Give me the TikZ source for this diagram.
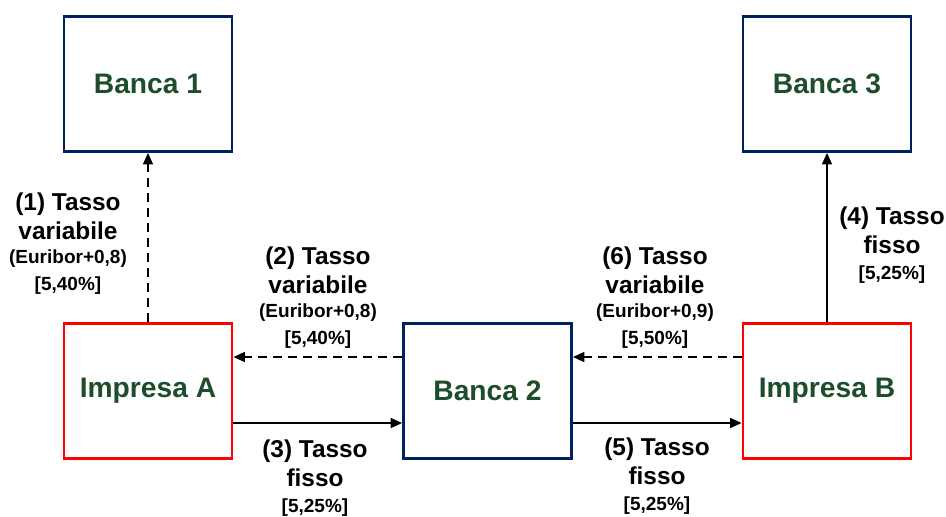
\documentclass[tikz,border=0pt]{standalone}
\usepackage{fontspec}
\setmainfont{Liberation Sans}
\usetikzlibrary{arrows.meta}
\definecolor{navybox}{HTML}{002060}
\definecolor{redbox}{HTML}{FF0000}
\definecolor{darkgreen}{HTML}{1E4D2B}
\newcommand{\bigline}{\fontsize{24.4}{28}\selectfont}
\newcommand{\smallline}{\fontsize{19}{22}\selectfont}
\tikzset{
  entity/.style={draw, line width=2.8pt, fill=white, minimum width=168pt, minimum height=135pt,
    inner sep=0pt, font=\bfseries\fontsize{28.2}{32}\selectfont, text=darkgreen},
  bank/.style={entity, draw=navybox},
  firm/.style={entity, draw=redbox},
  flow/.style={line width=1.5pt, -{Triangle[length=11.5pt,width=10pt]}},
  floating/.style={flow, dash pattern=on 9pt off 6pt},
  fixed/.style={flow},
  tag/.style={align=center, font=\bfseries\bigline, inner sep=0pt}
}
\begin{document}
\begin{tikzpicture}[x=1pt, y=-1pt]
\useasboundingbox (0,0) rectangle (946,517);

% parties
\node[bank] (b1) at (148,84) {Banca 1};
\node[bank] (b3) at (827,84) {Banca 3};
\node[firm] (ia) at (148,391) {Impresa A};
\node[bank] (b2) at (487.5,391) {Banca 2};
\node[firm] (ib) at (827,391) {Impresa B};

% interest flows
\draw[floating] (ia.north) -- (b1.south);
\draw[fixed] (ib.north) -- (b3.south);
\draw[floating] ([yshift=34pt]b2.west) -- ([yshift=34pt]ia.east);
\draw[floating] ([yshift=34pt]ib.west) -- ([yshift=34pt]b2.east);
\draw[fixed] ([yshift=-32pt]ia.east) -- ([yshift=-32pt]b2.west);
\draw[fixed] ([yshift=-32pt]b2.east) -- ([yshift=-32pt]ib.west);

% flow labels
\node[tag] (l1) at (68,244) {(1) Tasso\\[1pt] variabile\\[-4pt] {\smallline(Euribor+0,8)}\\[-1pt] {\smallline[5,40\%]}};
\node[tag] (l2) at (318,298) {(2) Tasso\\[1pt] variabile\\[-4pt] {\smallline(Euribor+0,8)}\\[-1pt] {\smallline[5,40\%]}};
\node[tag] (l6) at (655,298) {(6) Tasso\\[1pt] variabile\\[-4pt] {\smallline(Euribor+0,9)}\\[-1pt] {\smallline[5,50\%]}};
\node[tag] (l4) at (892,245) {(4) Tasso\\[1pt] fisso\\[-2pt] {\smallline[5,25\%]}};
\node[tag] (l3) at (315,478) {(3) Tasso\\[1pt] fisso\\[-2pt] {\smallline[5,25\%]}};
\node[tag] (l5) at (657,476) {(5) Tasso\\[1pt] fisso\\[-2pt] {\smallline[5,25\%]}};
\end{tikzpicture}
\end{document}
